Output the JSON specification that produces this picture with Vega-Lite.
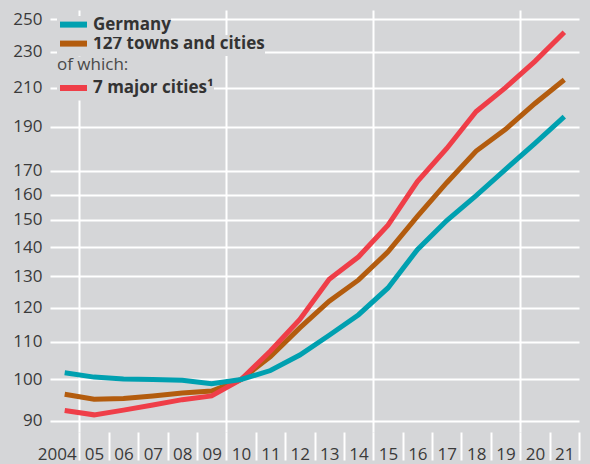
{
  "$schema": "https://vega.github.io/schema/vega-lite/v6.json",
  "width": 529,
  "height": 422,
  "autosize": "none",
  "padding": {"left": 50, "top": 10, "right": 11, "bottom": 32},
  "background": "#d5d6d8",
  "config": {
    "view": {"stroke": null, "fill": "#d5d6d8"},
    "font": "Open Sans",
    "legend": {
      "orient": "none",
      "legendX": 7,
      "title": null,
      "symbolType": "M-2.45,0H2.45",
      "symbolSize": 121,
      "symbolStrokeWidth": 6,
      "symbolOffset": 8,
      "labelOffset": 11,
      "labelLimit": 0,
      "labelFontSize": 17,
      "labelFontWeight": "bold",
      "labelColor": "#333333",
      "padding": 0,
      "fillColor": "#d5d6d8",
      "strokeColor": null
    }
  },
  "data": {
    "values": [
      {"year": 2004, "series": "Germany", "value": 101.7},
      {"year": 2005, "series": "Germany", "value": 100.6},
      {"year": 2006, "series": "Germany", "value": 100.1},
      {"year": 2007, "series": "Germany", "value": 100.0},
      {"year": 2008, "series": "Germany", "value": 99.8},
      {"year": 2009, "series": "Germany", "value": 98.9},
      {"year": 2010, "series": "Germany", "value": 100},
      {"year": 2011, "series": "Germany", "value": 102.3},
      {"year": 2012, "series": "Germany", "value": 106.4},
      {"year": 2013, "series": "Germany", "value": 111.9},
      {"year": 2014, "series": "Germany", "value": 117.9},
      {"year": 2015, "series": "Germany", "value": 126.2},
      {"year": 2016, "series": "Germany", "value": 139.1},
      {"year": 2017, "series": "Germany", "value": 149.8},
      {"year": 2018, "series": "Germany", "value": 159.6},
      {"year": 2019, "series": "Germany", "value": 170.6},
      {"year": 2020, "series": "Germany", "value": 182.2},
      {"year": 2021, "series": "Germany", "value": 195.1},
      {"year": 2004, "series": "127 towns and cities", "value": 96.3},
      {"year": 2005, "series": "127 towns and cities", "value": 95.1},
      {"year": 2006, "series": "127 towns and cities", "value": 95.3},
      {"year": 2007, "series": "127 towns and cities", "value": 95.9},
      {"year": 2008, "series": "127 towns and cities", "value": 96.6},
      {"year": 2009, "series": "127 towns and cities", "value": 97.1},
      {"year": 2010, "series": "127 towns and cities", "value": 100},
      {"year": 2011, "series": "127 towns and cities", "value": 106.0},
      {"year": 2012, "series": "127 towns and cities", "value": 114.0},
      {"year": 2013, "series": "127 towns and cities", "value": 122.0},
      {"year": 2014, "series": "127 towns and cities", "value": 128.8},
      {"year": 2015, "series": "127 towns and cities", "value": 138.3},
      {"year": 2016, "series": "127 towns and cities", "value": 151.4},
      {"year": 2017, "series": "127 towns and cities", "value": 164.9},
      {"year": 2018, "series": "127 towns and cities", "value": 178.7},
      {"year": 2019, "series": "127 towns and cities", "value": 188.9},
      {"year": 2020, "series": "127 towns and cities", "value": 201.7},
      {"year": 2021, "series": "127 towns and cities", "value": 214.2},
      {"year": 2004, "series": "7 major cities¹", "value": 92.4},
      {"year": 2005, "series": "7 major cities¹", "value": 91.4},
      {"year": 2006, "series": "7 major cities¹", "value": 92.5},
      {"year": 2007, "series": "7 major cities¹", "value": 93.7},
      {"year": 2008, "series": "7 major cities¹", "value": 95.0},
      {"year": 2009, "series": "7 major cities¹", "value": 95.9},
      {"year": 2010, "series": "7 major cities¹", "value": 100},
      {"year": 2011, "series": "7 major cities¹", "value": 107.5},
      {"year": 2012, "series": "7 major cities¹", "value": 116.5},
      {"year": 2013, "series": "7 major cities¹", "value": 129.0},
      {"year": 2014, "series": "7 major cities¹", "value": 136.6},
      {"year": 2015, "series": "7 major cities¹", "value": 148.0},
      {"year": 2016, "series": "7 major cities¹", "value": 165.4},
      {"year": 2017, "series": "7 major cities¹", "value": 179.9},
      {"year": 2018, "series": "7 major cities¹", "value": 197.6},
      {"year": 2019, "series": "7 major cities¹", "value": 210.0},
      {"year": 2020, "series": "7 major cities¹", "value": 224.5},
      {"year": 2021, "series": "7 major cities¹", "value": 241.7}
    ]
  },
  "encoding": {
    "x": {
      "field": "year",
      "type": "quantitative",
      "scale": {"domain": [2003.5, 2021.5], "nice": false, "zero": false},
      "axis": {
        "title": null,
        "domain": false,
        "values": [2004, 2004.5, 2005, 2005.5, 2006, 2006.5, 2007, 2007.5, 2008, 2008.5, 2009, 2009.5, 2010, 2010.5, 2011, 2011.5, 2012, 2012.5, 2013, 2013.5, 2014, 2014.5, 2015, 2015.5, 2016, 2016.5, 2017, 2017.5, 2018, 2018.5, 2019, 2019.5, 2020, 2020.5, 2021, 2021.5],
        "labelExpr": "datum.value % 1 != 0 ? '' : (datum.value == 2004 ? '2004' : slice(toString(datum.value), 2))",
        "labelOverlap": false,
        "labelFlush": false,
        "labelFontSize": 17,
        "labelColor": "#3a3a3a",
        "labelBaseline": "alphabetic",
        "labelPadding": -1,
        "labelOffset": {"condition": {"test": "datum.value == 2004", "value": -8}, "value": 0},
        "ticks": true,
        "tickSize": 28,
        "tickColor": "#ffffff",
        "tickWidth": 2,
        "tickOpacity": {"condition": {"test": "datum.value % 1 != 0", "value": 1}, "value": 0},
        "grid": true,
        "gridColor": "#ffffff",
        "gridWidth": 2,
        "gridOpacity": {"condition": {"test": "indexof([2004.5, 2009.5, 2014.5, 2019.5], datum.value) >= 0", "value": 1}, "value": 0}
      }
    },
    "y": {
      "field": "value",
      "type": "quantitative",
      "scale": {"type": "log", "domain": [87.5, 255.8], "nice": false},
      "axis": {
        "title": null,
        "domain": false,
        "ticks": false,
        "values": [90, 100, 110, 120, 130, 140, 150, 160, 170, 190, 210, 230, 250],
        "labelFontSize": 17,
        "labelColor": "#3a3a3a",
        "labelPadding": 8,
        "grid": true,
        "gridColor": "#ffffff",
        "gridWidth": 2
      }
    }
  },
  "layer": [
    {
      "transform": [{"filter": "datum.series == '127 towns and cities'"}],
      "mark": {"type": "line", "strokeWidth": 5},
      "encoding": {
        "color": {
          "field": "series",
          "type": "nominal",
          "scale": {"domain": ["127 towns and cities"], "range": ["#b35c0e"]},
          "legend": {"legendY": 25.1}
        }
      }
    },
    {
      "transform": [{"filter": "datum.series == '7 major cities¹'"}],
      "mark": {"type": "line", "strokeWidth": 5},
      "encoding": {
        "color": {
          "field": "series",
          "type": "nominal",
          "scale": {"domain": ["7 major cities¹"], "range": ["#ef3e48"]},
          "legend": {
            "legendY": 46.5,
            "title": "of which:",
            "titleFontSize": 17,
            "titleFontWeight": "normal",
            "titleColor": "#4a4a4a",
            "titlePadding": 6
          }
        }
      }
    },
    {
      "transform": [{"filter": "datum.series == 'Germany'"}],
      "mark": {"type": "line", "strokeWidth": 5},
      "encoding": {
        "color": {
          "field": "series",
          "type": "nominal",
          "scale": {"domain": ["Germany"], "range": ["#00a0b0"]},
          "legend": {"legendY": 6.1}
        }
      }
    }
  ],
  "resolve": {"scale": {"color": "independent"}}
}
